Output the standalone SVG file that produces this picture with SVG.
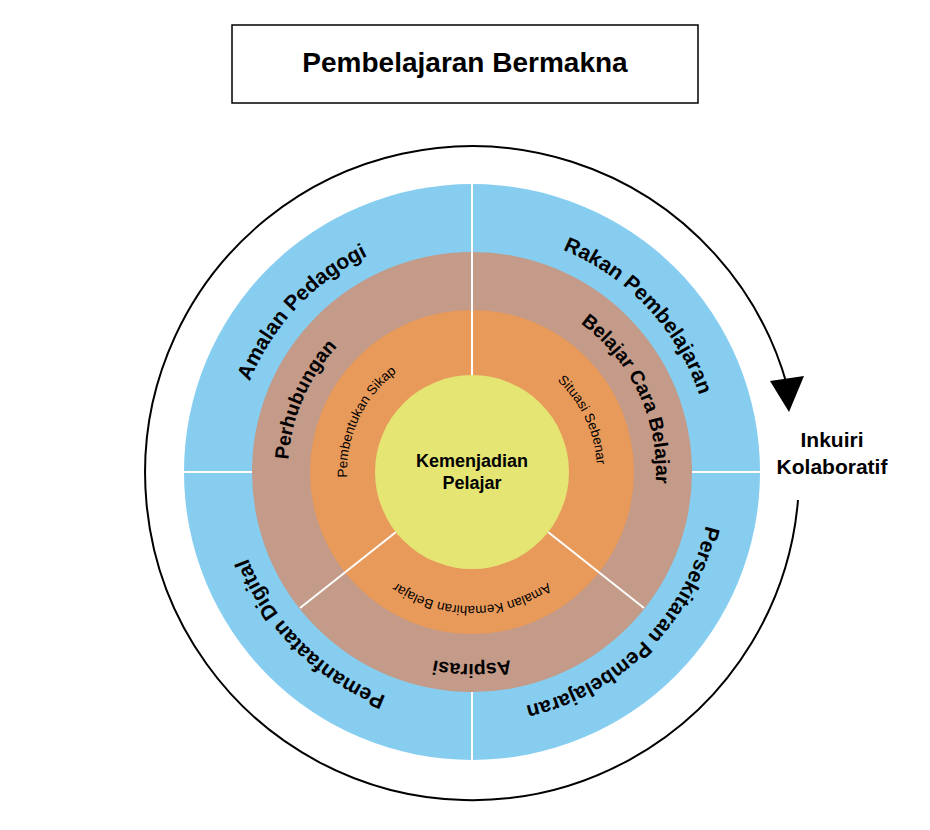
<svg xmlns="http://www.w3.org/2000/svg" width="930" height="830" viewBox="0 0 930 830">
<style>
text{font-family:"Liberation Sans",Arial,sans-serif;fill:#000}
.o{font-size:21px;font-weight:bold}
.b{font-size:19.5px;font-weight:bold}
.s{font-size:13.5px}
.w{stroke:#fff;stroke-width:2;fill:none}
</style>
<defs>
<path id="p1" d="M232,472 A240,240 0 1 1 712,472 A240,240 0 1 1 232,472"/>
<path id="p2" d="M288,472 A184,184 0 1 1 656,472 A184,184 0 1 1 288,472"/>
<path id="p3" d="M472,597 A125,125 0 1 1 472,347 A125,125 0 1 1 472,597"/>
<path id="p2b" d="M280,472 A192,192 0 1 1 664,472 A192,192 0 1 1 280,472"/>
<path id="p3b" d="M338,472 A134,134 0 1 1 606,472 A134,134 0 1 1 338,472"/>
</defs>
<rect x="232" y="25" width="466" height="78" fill="#fff" stroke="#000" stroke-width="1.5"/>
<text x="465" y="65" text-anchor="middle" dominant-baseline="middle" style="font-size:28px;font-weight:bold">Pembelajaran Bermakna</text>
<g id="connectors">
<path d="M798,500 A327,327 0 1 1 787,385" fill="none" stroke="#000" stroke-width="2"/>
<polygon points="789,412 770,381 804,376" fill="#000"/>
</g>
<g id="outer"><circle cx="472" cy="472" r="288" fill="#86CDF0"/>
<line class="w" x1="472" y1="184" x2="472" y2="260"/><line class="w" x1="472" y1="690" x2="472" y2="760"/>
<line class="w" x1="184" y1="472" x2="260" y2="472"/><line class="w" x1="690" y1="472" x2="760" y2="472"/>
<text class="o"><textPath href="#p1" startOffset="12%" text-anchor="middle">Amalan Pedagogi</textPath></text>
<text class="o"><textPath href="#p1" startOffset="38%" text-anchor="middle">Rakan Pembelajaran</textPath></text>
<text class="o"><textPath href="#p1" startOffset="62.5%" text-anchor="middle">Persekitaran Pembelajaran</textPath></text>
<text class="o"><textPath href="#p1" startOffset="87.5%" text-anchor="middle">Pemanfaatan Digital</textPath></text>
</g>
<g id="middle"><circle cx="472" cy="472" r="220" fill="#C49A88"/>
<text class="b"><textPath href="#p2" startOffset="6.5%" text-anchor="middle">Perhubungan</textPath></text>
<text class="b"><textPath href="#p2" startOffset="43%" text-anchor="middle">Belajar Cara Belajar</textPath></text>
<text class="b"><textPath href="#p2b" startOffset="75%" text-anchor="middle">Aspirasi</textPath></text>
</g>
<g id="inner"><circle cx="472" cy="472" r="162" fill="#E89A5A"/>
<text class="s"><textPath href="#p3" startOffset="32%" text-anchor="middle">Pembentukan Sikap</textPath></text>
<text class="s"><textPath href="#p3" startOffset="68%" text-anchor="middle">Situasi Sebenar</textPath></text>
<text class="s"><textPath href="#p3b" startOffset="75%" text-anchor="middle">Amalan Kemahiran Belajar</textPath></text>
</g>
<g id="dividers">
<line class="w" x1="472" y1="252" x2="472" y2="375"/>
<line class="w" x1="300" y1="608" x2="396" y2="532"/>
<line class="w" x1="644" y1="608" x2="548" y2="532"/>
</g>
<g id="core"><circle cx="472" cy="472" r="97" fill="#E5E574"/>
<text x="472" y="467" text-anchor="middle" style="font-size:18px;font-weight:bold">Kemenjadian</text>
<text x="472" y="489" text-anchor="middle" style="font-size:18px;font-weight:bold">Pelajar</text>
</g>
<g id="label">
<text x="832" y="447" text-anchor="middle" class="o">Inkuiri</text>
<text x="832" y="474" text-anchor="middle" class="o">Kolaboratif</text>
</g>
</svg>
